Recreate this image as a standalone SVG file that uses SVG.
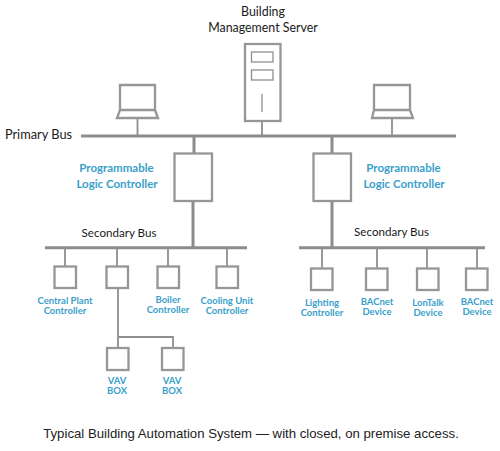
<svg xmlns="http://www.w3.org/2000/svg" width="500" height="451" viewBox="0 0 500 451">
<style>
.s{fill:#fff;stroke:#969696;stroke-width:2.3}
.t{fill:none;stroke:#8f8f8f;stroke-width:1.3}
.l{fill:none;stroke:#8f8f8f;stroke-width:1.8}
.b{fill:none;stroke:#8c8c8c;stroke-width:3}
text{font-family:Lato,"Open Sans",sans-serif;text-anchor:middle}
.k{font-size:12.400px;fill:#1a1a1a}
.n{font-size:11.600px;fill:#1a1a1a}
.r{font-size:12.800px;fill:#1a1a1a}
.p{font-size:11.500px;font-weight:700;fill:#3a9fcb}
.d{font-size:9.500px;font-weight:700;fill:#3a9fcb}
.c{font-family:"Liberation Sans",Arial,sans-serif;font-size:13.200px;fill:#222}
</style>
<rect width="500" height="451" fill="#fff"/>
<g id="connectors">
<path class="b" d="M81 136H456M45 247.700H247M299 247.700H485"/>
<path class="l" d="M137.500 118V136M262 121V136M392 118V136"/>
<path class="b" d="M194 136V153M332 136V153M193 201V247M332 201V247"/>
<path class="l" d="M65 248V266M117 248V266M168 248V266M227 248V266M322 248V268M377 248V268M427 248V268M477 248V268"/>
<path class="l" d="M118 288V347M118 337H173V347"/>
</g>
<g id="server"><rect class="s" x="245" y="44" width="35.500" height="77"/><rect class="t" x="251.500" y="52" width="21.500" height="10"/><rect class="t" x="251.500" y="70" width="21.500" height="10"/><path class="t" d="M262 94V112"/>
<text class="k" x="263" y="16">Building</text><text class="k" x="263" y="31.500">Management Server</text></g>
<g id="laptop-left"><path class="s" d="M120 110V85H155V110M120 110H155L158 118H117Z"/></g>
<g id="laptop-right"><path class="s" d="M374 110V85H410V110M374 110H410L413 118H372Z"/></g>
<g id="primary-bus-label"><text class="r" x="38.500" y="139">Primary Bus</text></g>
<g id="plc-left"><rect class="s" x="174.500" y="153.500" width="37.500" height="47.500"/><text class="p" x="116.500" y="172">Programmable</text><text class="p" x="117" y="188">Logic Controller</text></g>
<g id="plc-right"><rect class="s" x="313.500" y="153.500" width="37.500" height="47.500"/><text class="p" x="403.500" y="172">Programmable</text><text class="p" x="404" y="188">Logic Controller</text></g>
<g id="secondary-bus-left"><text class="n" x="119" y="237">Secondary Bus</text></g>
<g id="secondary-bus-right"><text class="n" x="391.500" y="236">Secondary Bus</text></g>
<g id="central-plant"><rect class="s" x="54.500" y="266.500" width="21.500" height="21.500"/><text class="d" x="65" y="304">Central Plant</text><text class="d" x="65" y="314">Controller</text></g>
<g id="unnamed-controller"><rect class="s" x="106.500" y="266.500" width="21.500" height="21.500"/></g>
<g id="boiler"><rect class="s" x="157.500" y="266.500" width="21.500" height="21.500"/><text class="d" x="168" y="303">Boiler</text><text class="d" x="168" y="313">Controller</text></g>
<g id="cooling-unit"><rect class="s" x="216.500" y="266.500" width="21.500" height="21.500"/><text class="d" x="227" y="304">Cooling Unit</text><text class="d" x="227" y="314">Controller</text></g>
<g id="lighting"><rect class="s" x="311" y="268.500" width="21.500" height="21.500"/><text class="d" x="322" y="306">Lighting</text><text class="d" x="322" y="316">Controller</text></g>
<g id="bacnet-1"><rect class="s" x="366" y="268.500" width="21.500" height="21.500"/><text class="d" x="377" y="305">BACnet</text><text class="d" x="377" y="315">Device</text></g>
<g id="lontalk"><rect class="s" x="417" y="268.500" width="21.500" height="21.500"/><text class="d" x="428" y="306">LonTalk</text><text class="d" x="428" y="316">Device</text></g>
<g id="bacnet-2"><rect class="s" x="466" y="268.500" width="21.500" height="21.500"/><text class="d" x="477" y="305">BACnet</text><text class="d" x="477" y="315">Device</text></g>
<g id="vav-1"><rect class="s" x="107" y="348" width="21.500" height="22"/><text class="d" x="117" y="384">VAV</text><text class="d" x="117" y="394">BOX</text></g>
<g id="vav-2"><rect class="s" x="162" y="348" width="21.500" height="22"/><text class="d" x="172" y="384">VAV</text><text class="d" x="172" y="394">BOX</text></g>
<text class="c" x="251" y="438">Typical Building Automation System — with closed, on premise access.</text>
</svg>
